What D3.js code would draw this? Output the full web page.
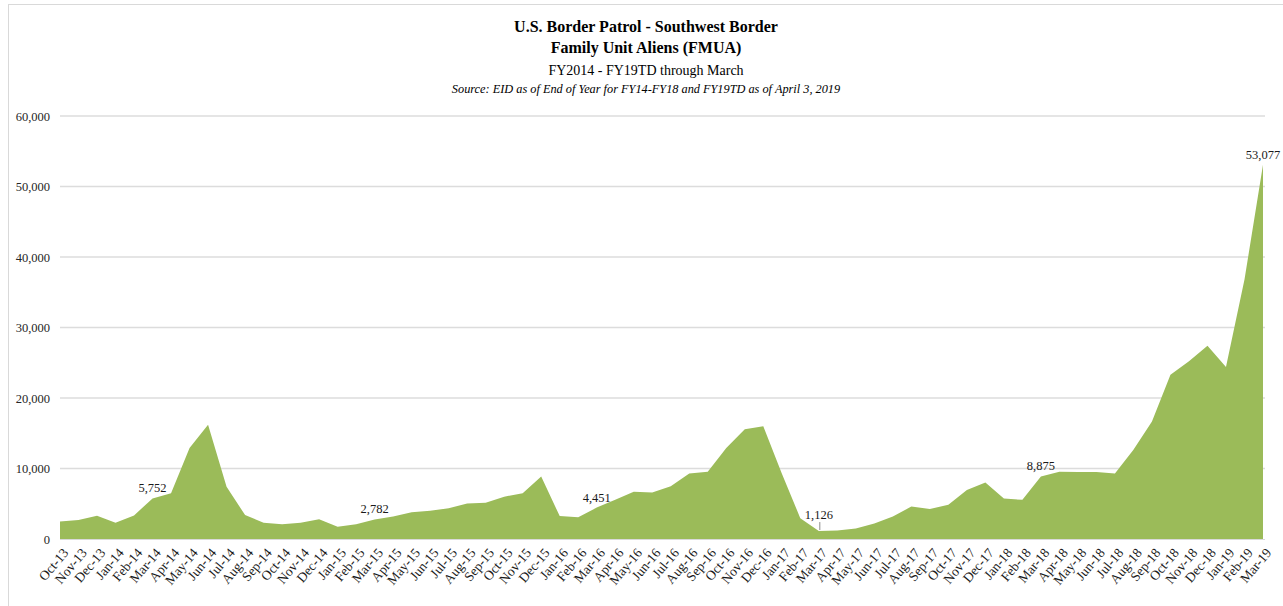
<!DOCTYPE html>
<html>
<head>
<meta charset="utf-8">
<script src="https://cdn.jsdelivr.net/npm/d3@7"></script>
<style>
    body { margin: 0; background: #fff; }
    svg { display: block; font-family: "Liberation Serif", "Times New Roman", serif; }
</style>
</head>
<body>
<div id="chart"></div>
<script>
const months = [
    "Oct-13","Nov-13","Dec-13","Jan-14","Feb-14","Mar-14","Apr-14","May-14","Jun-14","Jul-14","Aug-14","Sep-14",
    "Oct-14","Nov-14","Dec-14","Jan-15","Feb-15","Mar-15","Apr-15","May-15","Jun-15","Jul-15","Aug-15","Sep-15",
    "Oct-15","Nov-15","Dec-15","Jan-16","Feb-16","Mar-16","Apr-16","May-16","Jun-16","Jul-16","Aug-16","Sep-16",
    "Oct-16","Nov-16","Dec-16","Jan-17","Feb-17","Mar-17","Apr-17","May-17","Jun-17","Jul-17","Aug-17","Sep-17",
    "Oct-17","Nov-17","Dec-17","Jan-18","Feb-18","Mar-18","Apr-18","May-18","Jun-18","Jul-18","Aug-18","Sep-18",
    "Oct-18","Nov-18","Dec-18","Jan-19","Feb-19","Mar-19"
];

const fmua = [
    2500, 2700, 3300, 2300, 3350, 5752, 6500, 12900, 16200, 7400, 3400, 2300,
    2100, 2300, 2800, 1750, 2100, 2782, 3200, 3800, 4000, 4350, 5050, 5150,
    6000, 6500, 8850, 3250, 3100, 4451, 5550, 6700, 6600, 7500, 9300, 9550,
    12900, 15550, 16000, 9300, 2950, 1126, 1200, 1500, 2200, 3200, 4600, 4250,
    4850, 6950, 8000, 5750, 5550, 8875, 9550, 9500, 9500, 9300, 12650, 16650,
    23300, 25200, 27400, 24400, 36800, 53077
];

// months that get a value label
const labelled = ["Mar-14", "Mar-15", "Mar-16", "Mar-17", "Mar-18", "Mar-19"];
const yTicks = [0, 10000, 20000, 30000, 40000, 50000, 60000];

const width = 1283, height = 606;
const margin = { top: 116, right: 20, bottom: 67, left: 60 };
const plotRight = 1263;

const svg = d3.select('#chart').append('svg')
    .attr('width', width)
    .attr('height', height);

// outer frame
svg.append('rect')
    .attr('x', 8.5).attr('y', 4.5)
    .attr('width', width).attr('height', height)
    .attr('fill', 'none')
    .attr('stroke', '#d9d9d9');

const x = d3.scalePoint()
    .domain(months)
    .range([margin.left, plotRight]);

const y = d3.scaleLinear()
    .domain([0, 60000])
    .range([539, margin.top]);

// gridlines
svg.append('g')
    .selectAll('line')
    .data(yTicks.filter(d => d > 0))
    .enter().append('line')
    .attr('x1', margin.left)
    .attr('x2', 1265)
    .attr('y1', d => y(d))
    .attr('y2', d => y(d))
    .attr('stroke', '#dcdcdc')
    .attr('stroke-width', 1.5);

// y axis labels
const yAxis = d3.axisLeft(y)
    .tickValues(yTicks)
    .tickSize(0)
    .tickPadding(10)
    .tickFormat(d3.format(','));

svg.append('g')
    .attr('transform', `translate(${margin.left},0)`)
    .call(yAxis)
    .call(g => g.select('.domain').remove())
    .selectAll('text')
    .attr('font-family', '"Liberation Serif", serif')
    .attr('font-size', 12.5)
    .attr('fill', '#262626');

// area
const area = d3.area()
    .x((d, i) => x(months[i]))
    .y0(y(0))
    .y1(d => y(d));

svg.append('path')
    .datum(fmua)
    .attr('d', area)
    .attr('fill', '#9bbb59');

// x axis line
svg.append('line')
    .attr('x1', margin.left).attr('x2', 1265)
    .attr('y1', y(0) + 0.5).attr('y2', y(0) + 0.5)
    .attr('stroke', '#d9d9d9');

// x axis labels
const xAxis = d3.axisBottom(x).tickSize(0).tickPadding(0);

svg.append('g')
    .attr('transform', `translate(0,${y(0) + 5})`)
    .call(xAxis)
    .call(g => g.select('.domain').remove())
    .selectAll('text')
    .attr('font-family', '"Liberation Serif", serif')
    .attr('font-size', 13.5)
    .attr('fill', '#1a1a1a')
    .attr('text-anchor', 'end')
    .attr('dy', '0.35em')
    .attr('transform', 'translate(5,6) rotate(-50)');

// value labels
const labels = svg.append('g')
    .selectAll('text')
    .data(labelled)
    .enter().append('text')
    .attr('x', d => x(d))
    .attr('y', d => y(fmua[months.indexOf(d)]) - 6)
    .attr('text-anchor', 'middle')
    .attr('font-size', 12.5)
    .attr('fill', '#1a1a1a')
    .text(d => d3.format(',')(fmua[months.indexOf(d)]));

// the low point label sits above a short leader line
labels.filter(d => d === "Mar-17").attr('y', d => y(fmua[months.indexOf(d)]) - 12);
svg.append('line')
    .attr('x1', x("Mar-17") + 1).attr('x2', x("Mar-17") + 1)
    .attr('y1', y(1126) - 9).attr('y2', y(1126) - 1)
    .attr('stroke', '#8c8c8c');

// titles
const title = svg.append('g').attr('text-anchor', 'middle').attr('fill', '#000');
title.append('text')
    .attr('x', 646).attr('y', 32)
    .attr('font-size', 16).attr('font-weight', 'bold')
    .text('U.S. Border Patrol - Southwest Border');
title.append('text')
    .attr('x', 646).attr('y', 53)
    .attr('font-size', 16).attr('font-weight', 'bold')
    .text('Family Unit Aliens (FMUA)');
title.append('text')
    .attr('x', 646).attr('y', 75)
    .attr('font-size', 14)
    .text('FY2014 - FY19TD  through March');
title.append('text')
    .attr('x', 646).attr('y', 93)
    .attr('font-size', 12.3).attr('font-style', 'italic')
    .text('Source: EID as of End of Year for FY14-FY18 and FY19TD as of April 3, 2019');
</script>
</body>
</html>
